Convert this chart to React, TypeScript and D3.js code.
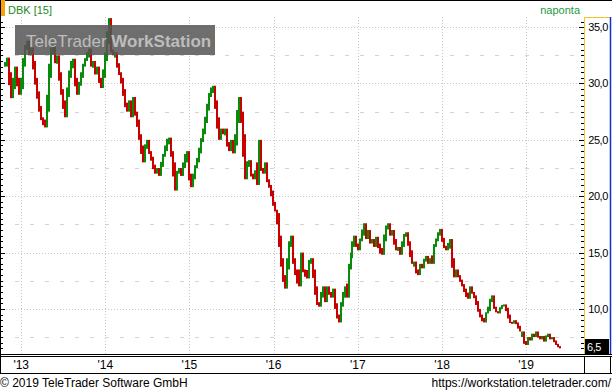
import { useEffect, useRef } from 'react'
import * as d3 from 'd3'

const TICKER = 'DBK [15]'
const PERIOD = 'naponta'
const FOOTER_LEFT = '\u00a9 2019 TeleTrader Software GmbH'
const FOOTER_RIGHT = 'https://workstation.teletrader.com/'

const YEAR_TICKS = [2013, 2014, 2015, 2016, 2017, 2018, 2019]
const PRICE_TICKS = [10, 15, 20, 25, 30, 35]
const HALF_TICKS = [7.5, 12.5, 17.5, 22.5, 27.5, 32.5]

const FIRST_DAY = new Date(2012, 9, 19)
const LAST_DAY = new Date(2019, 4, 24)
const LAST_PRICE = 6.5

// closing prices at roughly two pixels per bar
const CLOSES = [
  31.5, 32.3, 31.0, 28.7, 29.5, 31.5, 30.5, 29.0, 29.5, 31.5, 33.0, 33.8, 32.5, 33.2, 32.0, 30.5,
  29.3, 28.0, 27.0, 26.5, 26.1, 27.5, 30.5, 33.0, 33.4, 31.8, 32.5, 31.0, 29.5, 28.5, 27.0, 28.8,
  30.5, 31.8, 32.2, 30.5, 29.0, 29.8, 30.5, 31.5, 32.0, 32.5, 33.1, 31.5, 32.0, 30.8, 31.5, 30.5,
  29.6, 30.5, 32.0, 33.5, 35.8, 33.0, 32.5, 32.8, 31.8, 31.0, 30.5, 29.5, 28.3, 27.5, 28.5, 27.0,
  28.8, 27.5, 26.8, 25.5, 24.5, 23.0, 24.2, 25.0, 24.0, 23.5, 22.8, 22.0, 22.5, 21.8, 22.6, 23.5,
  24.0, 25.0, 25.2, 24.0, 23.0, 20.5, 22.0, 22.5, 21.8, 22.5, 23.5, 24.0, 22.0, 20.8, 21.5, 22.5,
  23.0, 23.8, 24.8, 25.5, 26.5, 27.6, 28.8, 29.5, 29.8, 28.5, 27.0, 25.0, 26.0, 25.5, 26.0, 24.8,
  24.0, 25.0, 23.8, 24.5, 26.5, 28.8, 27.5, 25.5, 21.5, 23.0, 23.2, 22.0, 21.5, 22.3, 21.0, 25.0,
  22.5, 22.0, 23.0, 21.5, 21.0, 20.5, 19.5, 18.8, 18.5, 16.5, 14.5, 13.0, 11.8, 13.5, 15.5, 16.5,
  14.5, 13.5, 12.5, 12.0, 15.0, 13.5, 13.0, 12.7, 14.2, 14.5, 13.5, 12.0, 10.5, 10.2, 11.0, 12.0,
  10.6, 12.0, 11.5, 11.0, 11.8, 10.5, 9.5, 8.8, 10.2, 11.0, 12.0, 11.0, 13.5, 14.5, 15.5, 16.5,
  15.8, 15.2, 16.0, 16.5, 17.6, 16.2, 17.0, 15.8, 16.2, 15.5, 16.4, 15.8, 15.0, 14.8, 16.0, 17.2,
  17.6, 16.5, 17.0, 16.2, 15.2, 15.5, 14.8, 15.5, 16.5, 16.8, 16.0, 15.2, 14.0, 14.2, 13.3, 13.0,
  14.0, 13.6, 14.2, 14.7, 14.0, 14.5, 14.0, 15.5, 16.0, 16.5, 17.1, 16.3, 15.6, 15.2, 15.5, 16.2,
  14.5, 12.8, 13.5, 13.0, 12.6, 12.2, 11.8, 11.2, 10.9, 12.0, 11.5, 11.2, 10.7, 10.0, 9.5, 9.0,
  8.8, 9.6, 9.8, 10.6, 11.2, 10.2, 9.8, 9.6, 10.0, 10.3, 10.4, 10.1, 9.5, 8.8, 8.7, 9.0,
  8.8, 8.5, 8.0, 8.0, 7.0, 6.8, 7.5, 7.2, 7.8, 7.5, 8.0, 7.6, 7.3, 7.6, 7.1, 7.5,
  7.8, 7.3, 7.5, 7.2, 6.9, 6.7, 6.5,
]

const W = 612
const H = 392
const GREEN = '#0a8a0a'
const RED = '#c80000'
const FONT = "'Liberation Sans', Arial, sans-serif"

export default function App() {
  const svgRef = useRef<SVGSVGElement>(null)

  useEffect(() => {
    const svgEl = svgRef.current
    if (!svgEl) return
    const svg = d3.select(svgEl)
    svg.selectAll('*').remove()

    const plotRight = 584
    const plotTop = 17
    const plotBottom = 354

    const x = d3.scaleTime()
      .domain([new Date(2012, 9, 1), new Date(2019, 8, 9)])
      .range([0, plotRight])
    const y = d3.scaleLinear().domain([6, 35.9]).range([plotBottom, plotTop])

    svg.append('rect').attr('width', W).attr('height', H).attr('fill', '#fff')

    // grid
    PRICE_TICKS.forEach(t => {
      svg.append('line')
        .attr('x1', 0).attr('x2', plotRight)
        .attr('y1', Math.round(y(t)) + 0.5).attr('y2', Math.round(y(t)) + 0.5)
        .attr('stroke', '#c8c8c8').attr('stroke-dasharray', '1,2')
    })
    HALF_TICKS.forEach(t => {
      svg.append('line')
        .attr('x1', 0).attr('x2', plotRight)
        .attr('y1', Math.round(y(t)) + 0.5).attr('y2', Math.round(y(t)) + 0.5)
        .attr('stroke', '#d4d4d4').attr('stroke-dasharray', '4,11')
    })
    YEAR_TICKS.forEach(yr => {
      const xx = Math.round(x(new Date(yr, 0, 1))) + 0.5
      svg.append('line')
        .attr('x1', xx).attr('x2', xx)
        .attr('y1', plotTop).attr('y2', plotBottom)
        .attr('stroke', '#c8c8c8').attr('stroke-dasharray', '1,2')
    })

    // bars: each spans the move from the previous close, reaching halfway to the next
    const step = (LAST_DAY.getTime() - FIRST_DAY.getTime()) / (CLOSES.length - 1)
    CLOSES.forEach((c, i) => {
      const prev = i === 0 ? c : CLOSES[i - 1]
      const next = i === CLOSES.length - 1 ? c : CLOSES[i + 1]
      const half = (c + next) / 2
      const dt = new Date(FIRST_DAY.getTime() + i * step)
      const bx = Math.round(x(dt))
      const y0 = y(Math.max(prev, c, half))
      const y1 = y(Math.min(prev, c, half))
      svg.append('rect')
        .attr('x', bx).attr('width', 2)
        .attr('y', y0).attr('height', Math.max(2, y1 - y0))
        .attr('fill', c >= prev ? GREEN : RED)
    })

    // watermark
    svg.append('rect')
      .attr('x', 15).attr('y', 25).attr('width', 200).attr('height', 30)
      .attr('fill', '#555').attr('opacity', 0.85)
    const wm = svg.append('text')
      .attr('x', 26).attr('y', 47)
      .attr('fill', '#bdbdbd')
      .style('font-family', FONT).style('font-size', '17px')
    wm.append('tspan').text('TeleTrader ')
    wm.append('tspan').attr('font-weight', 'bold').text('WorkStation')

    // header
    svg.append('line').attr('x1', 0).attr('x2', W).attr('y1', 0.5).attr('y2', 0.5).attr('stroke', '#000')
    svg.append('rect').attr('x', 0).attr('y', 0).attr('width', 5).attr('height', 16).attr('fill', '#f5a00f')
    svg.append('text')
      .attr('x', 8).attr('y', 14)
      .attr('fill', '#1c8a1c')
      .style('font-family', FONT).style('font-size', '11px')
      .text(TICKER)
    svg.append('text')
      .attr('x', 580).attr('y', 14)
      .attr('text-anchor', 'end')
      .attr('fill', '#1e9a3c')
      .style('font-family', FONT).style('font-size', '11px')
      .text(PERIOD)

    // left axis ticks
    svg.append('line').attr('x1', 0.5).attr('x2', 0.5).attr('y1', 0).attr('y2', 374).attr('stroke', '#000')
    d3.range(6.5, 36, 0.5).forEach(v => {
      const yy = Math.round(y(v)) + 0.5
      const major = v % 5 === 0
      svg.append('line')
        .attr('x1', 0).attr('x2', major ? 5 : 3)
        .attr('y1', yy).attr('y2', yy)
        .attr('stroke', '#000')
    })

    // right axis
    svg.append('line').attr('x1', 584.5).attr('x2', 584.5).attr('y1', plotTop).attr('y2', plotBottom)
      .attr('stroke', '#f2c230')
    svg.append('line').attr('x1', 584).attr('x2', 610).attr('y1', plotTop + 0.5).attr('y2', plotTop + 0.5)
      .attr('stroke', '#f2c230')
    svg.append('line').attr('x1', 610.5).attr('x2', 610.5).attr('y1', plotTop).attr('y2', plotBottom)
      .attr('stroke', '#1030c8').attr('stroke-width', 1.5)
    d3.range(6.5, 36, 0.5).forEach(v => {
      const yy = Math.round(y(v)) + 0.5
      const major = v % 5 === 0
      svg.append('line')
        .attr('x1', major ? 579 : 581).attr('x2', 584)
        .attr('y1', yy).attr('y2', yy)
        .attr('stroke', '#000')
    })
    PRICE_TICKS.forEach(t => {
      svg.append('text')
        .attr('x', 608).attr('y', y(t))
        .attr('text-anchor', 'end').attr('dominant-baseline', 'central')
        .attr('fill', '#000')
        .style('font-family', FONT).style('font-size', '11px').style('letter-spacing', '-0.4px')
        .text(d3.format('.1f')(t).replace('.', ','))
    })

    // last price marker
    svg.append('rect')
      .attr('x', 585).attr('y', Math.round(y(LAST_PRICE)) - 9).attr('width', 24).attr('height', 15)
      .attr('fill', '#000')
    svg.append('text')
      .attr('x', 587).attr('y', y(LAST_PRICE) - 1.5)
      .attr('dominant-baseline', 'central')
      .attr('fill', '#fff')
      .style('font-family', FONT).style('font-size', '11px').style('letter-spacing', '-0.4px')
      .text(d3.format('.1f')(LAST_PRICE).replace('.', ','))

    // x axis box
    ;[354.5, 356.5, 373.5].forEach(yy => {
      svg.append('line').attr('x1', 0).attr('x2', W).attr('y1', yy).attr('y2', yy).attr('stroke', '#000')
    })
    ;[584.5, 610.5].forEach(xx => {
      svg.append('line').attr('x1', xx).attr('x2', xx).attr('y1', 356).attr('y2', 374).attr('stroke', '#000')
    })
    YEAR_TICKS.forEach(yr => {
      svg.append('text')
        .attr('x', x(new Date(yr, 0, 1))).attr('y', 369)
        .attr('text-anchor', 'middle')
        .attr('fill', '#000')
        .style('font-family', FONT).style('font-size', '12px')
        .text(`'${String(yr).slice(2)}`)
    })

    // footer
    svg.append('text')
      .attr('x', 0).attr('y', 387)
      .attr('fill', '#000')
      .style('font-family', FONT).style('font-size', '12px')
      .text(FOOTER_LEFT)
    svg.append('text')
      .attr('x', 611).attr('y', 387)
      .attr('text-anchor', 'end')
      .attr('fill', '#000')
      .style('font-family', FONT).style('font-size', '12px')
      .text(FOOTER_RIGHT)
  }, [])

  return (
    <svg
      ref={svgRef}
      width={W}
      height={H}
      style={{ position: 'absolute', left: 0, top: 0, display: 'block' }}
    />
  )
}
